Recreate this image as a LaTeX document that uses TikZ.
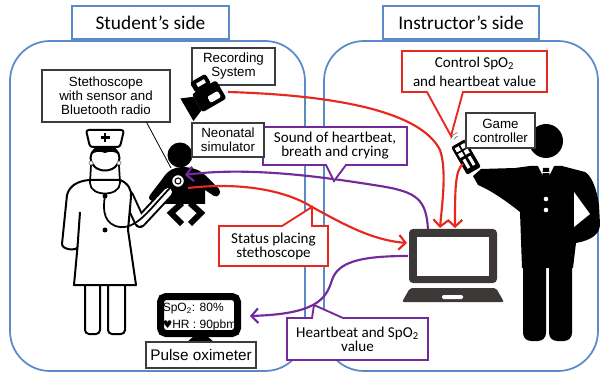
\documentclass[tikz,border=0pt]{standalone}
\usepackage{fontspec}
\setmainfont{Carlito}
\newfontfamily\arialfont{Liberation Sans}
\newfontfamily\symbolfont{DejaVu Sans}
\usetikzlibrary{arrows.meta,calc}
\newcommand{\pxu}{0.75pt}
\definecolor{sideblue}{HTML}{5B8AC8}
\definecolor{flowred}{HTML}{E8271E}
\definecolor{flowpurple}{HTML}{722A9C}
\definecolor{labelgray}{HTML}{3C3C3C}
\definecolor{pcgray}{HTML}{3D3838}

\begin{document}
\begin{tikzpicture}[x=0.75pt, y=-0.75pt,
  sideframe/.style={draw=sideblue, line width=1.3pt, rounded corners=30pt},
  titlebox/.style={draw=sideblue, line width=1.3pt, fill=white, inner sep=0pt, font=\fontsize{14.5}{16}\selectfont},
  labelbox/.style={draw=labelgray, line width=0.8pt, fill=white, inner sep=0pt, align=center, font=\arialfont\fontsize{10}{10.5}\selectfont},
  calltext/.style={inner sep=0pt, align=center, font=\fontsize{11.3}{10.5}\selectfont},
  redcallout/.style={draw=flowred, line width=1.4pt, fill=white, line join=miter},
  purplecallout/.style={draw=flowpurple, line width=1.4pt, fill=white, line join=miter},
  flow/.style={line width=1.6pt, -{Straight Barb[length=5pt,width=11pt]}},
  redflow/.style={flow, draw=flowred},
  purpleflow/.style={flow, draw=flowpurple},
  figline/.style={draw=black, line width=1.5pt, fill=white, line join=round},
]
\useasboundingbox (0,0) rectangle (600,374);
\fill[white] (0,0) rectangle (600,374);

% ---------- the two sides ----------
\draw[sideframe] (10,41) rectangle (305,371);
\draw[sideframe] (324,41) rectangle (598,371);
\node[titlebox, minimum width=157*\pxu, minimum height=33*\pxu] (student) at (150.5,22.5) {Student’s side};
\node[titlebox, minimum width=156*\pxu, minimum height=33*\pxu] (instructor) at (461,22.5) {Instructor’s side};

% ---------- recording system ----------
\node[labelbox, minimum width=83*\pxu, minimum height=37*\pxu] (rec) at (233.5,66.5) {Recording\\System};
\begin{scope}[shift={(205,97)}, rotate=30]
  \fill[rounded corners=2pt] (-10,-9) rectangle (18,12);
  \fill (-10,-6) -- (-22,-11) -- (-22,15) -- (-10,10) -- cycle;
  \fill[rounded corners=2pt] (-6,-20) rectangle (12,-8);
  \fill[white] (-1,-16) rectangle (8,-12);
  \fill[white, rounded corners=1pt] (2,1) rectangle (14,8);
\end{scope}
\coordinate (camera) at (228,92);

% ---------- neonatal simulator (baby) ----------
\fill (180,155) circle (12.5);
\fill (163,178) .. controls (168,170) and (175,167) .. (182,167)
  .. controls (192,167) and (200,170) .. (205,175) -- (219,189)
  .. controls (222,193) and (218,198) .. (214,196) -- (205,190)
  -- (205,204) -- (165,204) -- (165,192) -- (155,200)
  .. controls (151,203) and (147,198) .. (150,195) -- cycle;
\draw[line width=6*\pxu, line join=miter] (182,203) -- (171,213) -- (182,224);
\draw[line width=6*\pxu, line join=miter] (190,203) -- (201,213) -- (190,224);

% ---------- nurse ----------
\draw[line width=12*\pxu, line cap=round, line join=round] (128,196) -- (140,222) -- (168,192);
\draw[white, line width=8*\pxu, line cap=round, line join=round] (128,196) -- (140,222) -- (168,192);
\draw[figline, rounded corners=3pt] (85,278) rectangle (100,334);
\draw[figline, rounded corners=3pt] (108,278) rectangle (125,334);
\draw[figline] (89,180) .. controls (80,181) and (70,184) .. (67,195) -- (62,244)
  .. controls (62,250) and (77,251) .. (77.5,247) -- (74,285) -- (136,285) -- (128,230)
  -- (131,197) .. controls (132,190) and (128,183) .. (120,180) -- cycle;
\draw[line width=1.5pt] (80,212) -- (77.5,247);
\begin{scope}
  \clip (105,158) ellipse [x radius=14.5, y radius=12.5];
  \fill[white] (85,140) rectangle (125,175);
  \fill (85,140) -- (125,140) -- (125,163) .. controls (120,152) and (112,150) .. (105,153)
    .. controls (98,150) and (90,152) .. (85,163) -- cycle;
\end{scope}
\draw[line width=1.5pt] (105,158) ellipse [x radius=14.5, y radius=12.5];
\draw[figline, rounded corners=2pt] (86,130) -- (124,130) -- (120,147) -- (90,147) -- cycle;
\draw[line width=2.6*\pxu] (105,133) -- (105,142) (100.5,137.5) -- (109.5,137.5);
\draw[line width=1.3pt] (91,165) -- (90,183) .. controls (90,197) and (120,197) .. (120,183) -- (119,165);
\draw[draw=gray, line width=0.5pt, fill=white] (91,163) circle (2) (119,163) circle (2);
\fill (105,196) circle (2.5) (105,230) circle (2.5);
\draw[line width=1.3pt] (105,196) .. controls (102,212) and (105,225) .. (120,227)
  .. controls (138,229) and (152,206) .. (172,186);
\draw[line width=1pt, fill=white] (178,181) circle (6.5);
\draw[line width=0.8pt] (178,181) circle (3);
\coordinate (chest) at (171,168);
\coordinate (babyin) at (185,175);
\coordinate (babyout) at (188,188);

% ---------- instructor ----------
\fill (546,141) circle (17);
\fill (530,166) -- (562,166) -- (585,172) .. controls (592,176) and (597,190) .. (599,205)
  -- (600,224) .. controls (600,234) and (592,240) .. (576,243) -- (573,268)
  -- (522,268) -- (520,212) .. controls (505,200) and (490,190) .. (478,185)
  -- (473,176) -- (481,169) -- (515,168) -- cycle;
\fill[white] (574,192) -- (590,214) -- (574,227) -- cycle;
\fill[rounded corners=6pt] (523,250) rectangle (546,341);
\fill[rounded corners=6pt] (549,250) rectangle (572,341);
\fill[white] (537,164) -- (546,182) -- (555,164) -- cycle;
\fill (543,168) -- (549,168) -- (550,180) -- (546,186) -- (542,180) -- cycle;
\draw[white, line width=0.7pt] (542,172) -- (550,172);
\fill[white] (546,199) circle (2.3) (546,210) circle (2.3);
\begin{scope}[shift={(466,157)}, rotate=30]
  \fill[rounded corners=1.5pt] (-8,-16) rectangle (8,16);
  \fill[white] (-5.5,-13) rectangle (-1,-8.5) (1,-13) rectangle (5.5,-8.5)
               (-5.5,-6.5) rectangle (-1,-2) (1,-6.5) rectangle (5.5,-2);
  \fill[white] (-4.5,1) rectangle (-1.5,11) (1.5,1) rectangle (4.5,11);
\end{scope}
\draw[gray, line width=0.6pt] (459,141) ++(200:5) arc[start angle=200, end angle=255, radius=5];
\draw[gray, line width=0.6pt] (459,141) ++(195:8.5) arc[start angle=195, end angle=260, radius=8.5];
\coordinate (pad) at (463,164);

% ---------- laptop ----------
\node[minimum width=88*\pxu, minimum height=54*\pxu, inner sep=0pt] (laptop) at (453,256) {};
\fill[pcgray, rounded corners=3pt] (409,229) rectangle (497,283);
\fill[white] (417,237) rectangle (489,276);
\fill[pcgray, rounded corners=1.5pt] (410,288) -- (496,288) -- (504,302) -- (402,302) -- cycle;
\fill[white, rounded corners=1pt] (442,295) rectangle (463,299);
\coordinate (lapinA) at (440,228);
\coordinate (lapinB) at (455,228);
\coordinate (lapinC) at (407,243);
\coordinate (lapoutA) at (428,229);
\coordinate (lapoutB) at (408,256);

% ---------- pulse oximeter ----------
\fill (194,336) -- (207,336) -- (215,343) -- (186,343) -- cycle;
\fill[white] (160,296) rectangle (238,334);
\begin{scope}
  \clip (157,293) rectangle (240,337);
  \node[anchor=west, align=left, inner sep=0pt, font=\arialfont\fontsize{9}{12.5}\selectfont] (spo) at (162.5,317)
    {SpO\textsubscript{2}: 80\%\\{\symbolfont\fontsize{8}{12.5}\selectfont ♥}HR : 90pbm/s};
\end{scope}
\draw[line width=7*\pxu, rounded corners=4pt] (160.5,296.5) rectangle (237.5,333.5);
\node[labelbox, minimum width=110*\pxu, minimum height=26*\pxu, font=\arialfont\fontsize{11.5}{12}\selectfont] (oxi) at (201,355) {Pulse oximeter};
\coordinate (oxiin) at (250,316);

% ---------- data flows ----------
\draw[redflow] (camera) .. controls (330,95) and (420,110) .. (440,150)
  .. controls (447,170) and (442,205) .. (lapinA);
\draw[redflow] (pad) .. controls (455,170) and (455,190) .. (lapinB);
\draw[redflow] (babyout) .. controls (240,182) and (285,190) .. (312,207)
  .. controls (340,222) and (370,240) .. (lapinC);
\draw[purpleflow] (lapoutA) .. controls (426,200) and (418,192) .. (380,186)
  .. controls (330,178) and (250,166) .. (babyin);
\draw[purpleflow] (lapoutB) .. controls (360,256) and (338,262) .. (332,280)
  .. controls (326,300) and (315,314) .. (oxiin);

% ---------- callouts ----------
\draw[purplecallout] (263,127) -- (407,127) -- (407,165) -- (346,165) -- (334,181) -- (326,165) -- (263,165) -- cycle;
\node[calltext] (sound) at (335,146) {Sound of heartbeat,\\breath and crying};
\draw[redcallout] (402,51) -- (547,51) -- (547,92) -- (463,92) -- (451,136) -- (427,92) -- (402,92) -- cycle;
\node[calltext, font=\fontsize{11.3}{14}\selectfont] (control) at (474.5,71.5) {Control SpO\textsubscript{2}\\and heartbeat value};
\draw[redcallout] (219,226) -- (282,226) -- (312,207) -- (312,226) -- (328,226) -- (328,266) -- (219,266) -- cycle;
\node[calltext] (status) at (273.5,246) {Status placing\\stethoscope};
\draw[purplecallout] (287,318) -- (312,318) -- (314,305) -- (343,318) -- (428,318) -- (428,360) -- (287,360) -- cycle;
\node[calltext] (hbval) at (357.5,339) {Heartbeat and SpO\textsubscript{2}\\value};

% ---------- plain labels ----------
\node[labelbox, minimum width=128*\pxu, minimum height=52*\pxu] (steth) at (106,96) {Stethoscope\\with sensor and\\Bluetooth radio};
\node[labelbox, minimum width=72*\pxu, minimum height=34*\pxu] (neo) at (228,140) {Neonatal\\simulator};
\node[labelbox, minimum width=69*\pxu, minimum height=35*\pxu] (game) at (500.5,130.5) {Game\\controller};
\draw[line width=0.6pt] ($(steth.south west)!0.815!(steth.south east)$) -- (chest);
\end{tikzpicture}
\end{document}
